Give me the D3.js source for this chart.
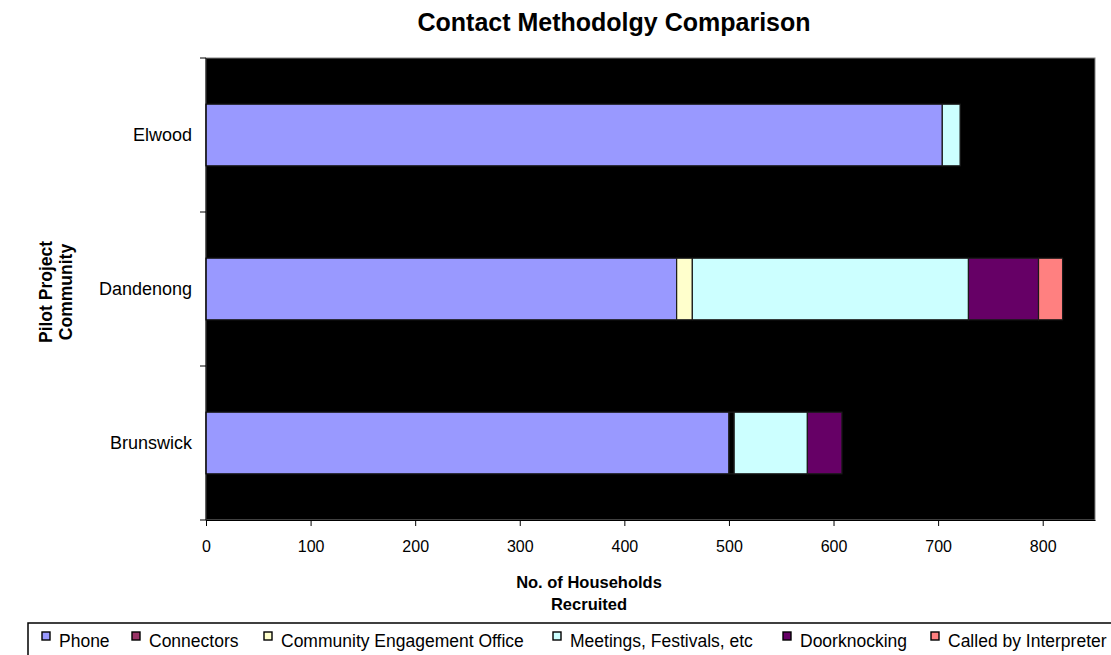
<!DOCTYPE html>
<html>
<head>
<meta charset="utf-8">
<script src="https://cdn.jsdelivr.net/npm/d3@7"></script>
<style>
  body { margin: 0; background: #fff; }
  text { font-family: "Liberation Sans", Arial, sans-serif; }
</style>
</head>
<body>
<svg id="chart" width="1111" height="655"></svg>
<script>
// data
const communities = ["Elwood", "Dandenong", "Brunswick"];
const methods = ["Phone", "Connectors", "Community Engagement Office", "Meetings, Festivals, etc", "Doorknocking", "Called by Interpreter"];
const phone      = [704, 450, 500];
const connectors = [0, 0, 5];
const ceo        = [0, 15, 0];
const meetings   = [17, 264, 70];
const doorknock  = [0, 67, 33];
const interp     = [0, 23, 0];
const xTicks = [0, 100, 200, 300, 400, 500, 600, 700, 800];
const colors = ["#9999ff", "#993366", "#ffffcc", "#ccffff", "#660066", "#ff8080"];
// connectors bar shows up black in the plot
const barFill = ["#9999ff", "#000000", "#ffffcc", "#ccffff", "#660066", "#ff8080"];

const svg = d3.select("#chart");
const margin = {left: 206, right: 16, top: 58, bottom: 135};
const W = 1111, H = 655;

const rows = communities.map((c, i) => ({
    name: c,
    "Phone": phone[i],
    "Connectors": connectors[i],
    "Community Engagement Office": ceo[i],
    "Meetings, Festivals, etc": meetings[i],
    "Doorknocking": doorknock[i],
    "Called by Interpreter": interp[i]
}));

const x = d3.scaleLinear().domain([0, 850]).range([margin.left, W - margin.right]);
const y = d3.scaleBand().domain(communities).range([margin.top, H - margin.bottom]).paddingInner(0.6).paddingOuter(0.3);
const yOuter = d3.scaleBand().domain(communities).range([margin.top, H - margin.bottom]);

// plot area
svg.append("rect")
    .attr("x", x(0)).attr("y", margin.top)
    .attr("width", x(850) - x(0)).attr("height", H - margin.bottom - margin.top)
    .attr("fill", "#000").attr("stroke", "#808080").attr("stroke-width", 1);

const stack = d3.stack().keys(methods)(rows);

svg.append("g").selectAll("g")
    .data(stack)
    .join("g")
    .attr("fill", (d, i) => barFill[i])
    .selectAll("rect")
    .data(d => d.filter(s => s[1] - s[0] > 0))
    .join("rect")
    .attr("x", d => x(d[0]))
    .attr("y", d => y(d.data.name))
    .attr("width", d => x(d[1]) - x(d[0]))
    .attr("height", y.bandwidth())
    .attr("stroke", "#1a1a1a")
    .attr("stroke-width", 1.2);

// x axis
const xAxis = svg.append("g")
    .attr("transform", `translate(0,${H - margin.bottom})`)
    .call(d3.axisBottom(x).tickValues(xTicks).tickSize(6).tickPadding(15).tickSizeOuter(0));
xAxis.select(".domain").attr("stroke", "#000");
xAxis.selectAll("text").attr("font-size", 16).attr("fill", "#000");

// y axis, ticks sit between categories
const yEdges = communities.map(c => yOuter(c)).concat([H - margin.bottom]);
svg.append("g").selectAll("line")
    .data(yEdges)
    .join("line")
    .attr("x1", x(0) - 6).attr("x2", x(0))
    .attr("y1", d => d).attr("y2", d => d)
    .attr("stroke", "#000");
svg.append("line")
    .attr("x1", x(0)).attr("x2", x(0))
    .attr("y1", margin.top).attr("y2", H - margin.bottom)
    .attr("stroke", "#000");
svg.append("g").selectAll("text")
    .data(communities)
    .join("text")
    .attr("x", x(0) - 14)
    .attr("y", d => y(d) + y.bandwidth() / 2)
    .attr("dy", "0.35em")
    .attr("text-anchor", "end")
    .attr("font-size", 18)
    .text(d => d);

// titles
svg.append("text")
    .attr("x", 614).attr("y", 31)
    .attr("text-anchor", "middle")
    .attr("font-size", 25).attr("font-weight", "bold")
    .text("Contact Methodolgy Comparison");

svg.append("g")
    .selectAll("text")
    .data(["No. of Households", "Recruited"])
    .join("text")
    .attr("x", 589)
    .attr("y", (d, i) => 588 + i * 22)
    .attr("text-anchor", "middle")
    .attr("font-size", 16.5).attr("font-weight", "bold")
    .text(d => d);

svg.append("g")
    .attr("transform", "translate(0,292) rotate(-90)")
    .selectAll("text")
    .data(["Pilot Project", "Community"])
    .join("text")
    .attr("x", 0)
    .attr("y", (d, i) => 52 + i * 20)
    .attr("text-anchor", "middle")
    .attr("font-size", 17.5).attr("font-weight", "bold")
    .text(d => d);

// legend
svg.append("rect")
    .attr("x", 28).attr("y", 623)
    .attr("width", 1100).attr("height", 40)
    .attr("fill", "#fff").attr("stroke", "#000").attr("stroke-width", 1.5);

const legendX = [42, 132, 264, 553, 783, 931];
const lg = svg.append("g").selectAll("g")
    .data(methods)
    .join("g")
    .attr("transform", (d, i) => `translate(${legendX[i]},641)`);
lg.append("rect")
    .attr("x", 0).attr("y", -9)
    .attr("width", 8).attr("height", 8)
    .attr("fill", (d, i) => colors[i])
    .attr("stroke", "#000").attr("stroke-width", 1.4);
lg.append("text")
    .attr("x", 17).attr("y", 0)
    .attr("dy", "0.35em")
    .attr("font-size", 17.5)
    .text(d => d);
</script>
</body>
</html>
